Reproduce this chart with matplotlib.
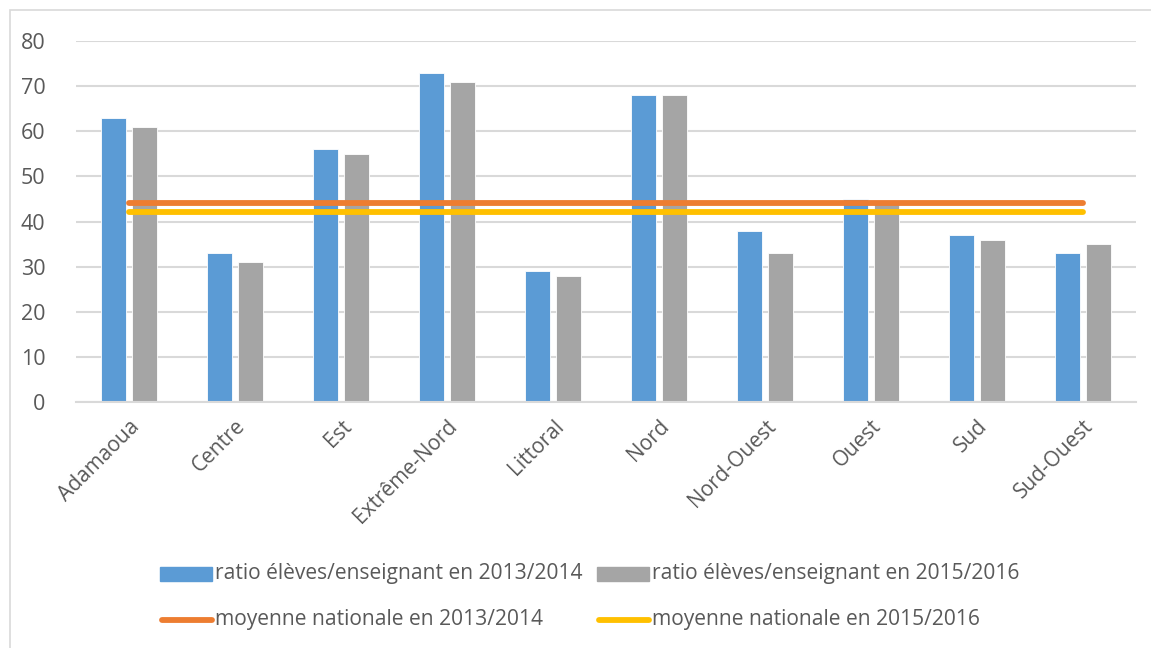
import matplotlib
matplotlib.use("Agg")
import matplotlib.pyplot as plt
import numpy as np
from matplotlib.patches import Rectangle
from matplotlib.lines import Line2D

regions = ["Adamaoua", "Centre", "Est", "Extrême-Nord", "Littoral", "Nord",
           "Nord-Ouest", "Ouest", "Sud", "Sud-Ouest"]
ratio_2013 = [63, 33, 56, 73, 29, 68, 38, 45, 37, 33]
ratio_2016 = [61, 31, 55, 71, 28, 68, 33, 44, 36, 35]
moyenne_2013 = [44] * len(regions)
moyenne_2016 = [42] * len(regions)

labels = ["ratio élèves/enseignant en 2013/2014",
          "ratio élèves/enseignant en 2015/2016",
          "moyenne nationale en 2013/2014",
          "moyenne nationale en 2015/2016"]
yticks = [0, 10, 20, 30, 40, 50, 60, 70, 80]

BLUE, GRAY, ORANGE, YELLOW = "#5B9BD5", "#A5A5A5", "#ED7D31", "#FFC000"
TXT = "#595959"
GRID = "#D9D9D9"

plt.rcParams['font.family'] = ['Open Sans', 'DejaVu Sans']

W, H = 1151, 648
fig = plt.figure(figsize=(W / 100, H / 100), dpi=100)

# outer chart border
fig.patches.append(Rectangle((10 / W, -0.01), 1.02, 1 - 10 / H + 0.01,
                             transform=fig.transFigure, fill=False,
                             edgecolor=GRID, linewidth=1.2))

ax = fig.add_axes([76 / W, 1 - 402 / H, (1136 - 76) / W, (402 - 41) / H])
x = np.arange(len(regions))
bw = 0.23
off = 0.145
ax.bar(x - off, ratio_2013, bw, color=BLUE, edgecolor="white", linewidth=0.6, zorder=2)
ax.bar(x + off, ratio_2016, bw, color=GRAY, edgecolor="white", linewidth=0.6, zorder=2)
ax.plot(x, moyenne_2013, color=ORANGE, lw=4.2, solid_capstyle="round", zorder=3)
ax.plot(x, moyenne_2016, color=YELLOW, lw=4.2, solid_capstyle="round", zorder=3)

ax.set_xlim(-0.5, len(regions) - 0.5)
ax.set_ylim(0, 80)
ax.set_yticks(yticks)
ax.set_yticklabels([str(v) for v in yticks], fontsize=15.5, color=TXT)
ax.yaxis.grid(True, color=GRID, linewidth=1.5, zorder=0)
ax.set_axisbelow(True)
ax.tick_params(axis="y", length=0, pad=22)
ax.tick_params(axis="x", length=0, pad=10)
ax.set_xticks(x)
ax.set_xticklabels(regions, rotation=45, ha="right", va="top",
                   rotation_mode="anchor", fontsize=15, color=TXT)
for s in ["top", "right", "left"]:
    ax.spines[s].set_visible(False)
ax.spines["bottom"].set_color(GRID)
ax.spines["bottom"].set_linewidth(1.5)

# legend, two rows
def fx(px):
    return px / W

def fy(py):
    return 1 - py / H

row1, row2 = 574, 620
fig.patches.append(Rectangle((fx(160), fy(row1 + 7)), fx(52), 14 / H,
                             transform=fig.transFigure, color=BLUE))
fig.patches.append(Rectangle((fx(597), fy(row1 + 7)), fx(52), 14 / H,
                             transform=fig.transFigure, color=GRAY))
fig.lines.append(Line2D([fx(162), fx(212)], [fy(row2), fy(row2)],
                        transform=fig.transFigure, color=ORANGE, lw=4.2,
                        solid_capstyle="round"))
fig.lines.append(Line2D([fx(599), fx(649)], [fy(row2), fy(row2)],
                        transform=fig.transFigure, color=YELLOW, lw=4.2,
                        solid_capstyle="round"))
fig.text(fx(215), fy(row1), labels[0], fontsize=15.1, color=TXT, va="center", ha="left")
fig.text(fx(652), fy(row1), labels[1], fontsize=15.1, color=TXT, va="center", ha="left")
fig.text(fx(215), fy(row2), labels[2], fontsize=15.1, color=TXT, va="center", ha="left")
fig.text(fx(652), fy(row2), labels[3], fontsize=15.1, color=TXT, va="center", ha="left")

fig.savefig("out.png", dpi=100, facecolor="white")
